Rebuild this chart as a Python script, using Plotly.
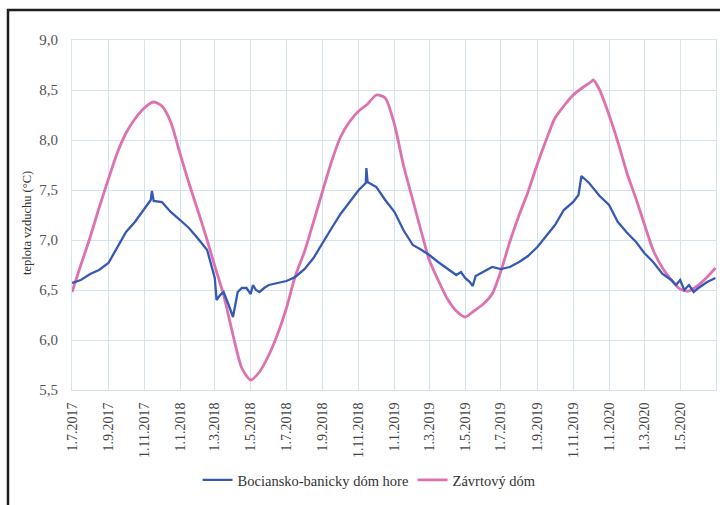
import plotly.graph_objects as go

# Daily mean air temperature in two cave domes (sampled readings)
dates_zavrt = [
    "2017-07-01", "2017-07-16", "2017-08-01", "2017-08-16", "2017-09-01", "2017-09-16",
    "2017-10-01", "2017-10-16", "2017-11-01", "2017-11-16", "2017-12-01", "2017-12-16",
    "2018-01-01", "2018-01-16", "2018-02-01", "2018-02-16", "2018-03-01", "2018-03-16",
    "2018-04-01", "2018-04-16", "2018-05-01", "2018-05-16", "2018-06-01", "2018-06-16",
    "2018-07-01", "2018-07-16", "2018-08-01", "2018-08-16", "2018-09-01", "2018-09-16",
    "2018-10-01", "2018-10-16", "2018-11-01", "2018-11-16", "2018-12-01", "2018-12-16",
    "2019-01-01", "2019-01-16", "2019-02-01", "2019-02-16", "2019-03-01", "2019-03-16",
    "2019-04-01", "2019-04-16", "2019-05-01", "2019-05-16", "2019-06-01", "2019-06-16",
    "2019-07-01", "2019-07-16", "2019-08-01", "2019-08-16", "2019-09-01", "2019-09-16",
    "2019-10-01", "2019-10-16", "2019-11-01", "2019-11-16", "2019-12-01", "2019-12-05",
    "2019-12-16", "2020-01-01", "2020-01-16", "2020-02-01", "2020-02-16", "2020-03-01",
    "2020-03-16", "2020-04-01", "2020-04-16", "2020-05-01", "2020-05-16", "2020-06-01",
    "2020-06-16", "2020-06-30",
]
temp_zavrt = [
    6.48, 6.75, 7.03, 7.32, 7.61, 7.87,
    8.07, 8.21, 8.32, 8.38, 8.34, 8.18,
    7.86, 7.57, 7.28, 7.00, 6.74, 6.45,
    6.05, 5.72, 5.60, 5.68, 5.85, 6.06,
    6.32, 6.64, 6.89, 7.18, 7.50, 7.79,
    8.03, 8.18, 8.29, 8.36, 8.45, 8.42,
    8.15, 7.75, 7.40, 7.07, 6.80, 6.60,
    6.41, 6.29, 6.23, 6.29, 6.36, 6.46,
    6.69, 6.98, 7.25, 7.48, 7.76, 8.00,
    8.22, 8.34, 8.45, 8.52, 8.58, 8.60,
    8.50, 8.25, 7.98, 7.66, 7.41, 7.16,
    6.90, 6.72, 6.60, 6.51, 6.49, 6.55,
    6.63, 6.72,
]

dates_bocian = [
    "2017-07-01", "2017-07-16", "2017-08-01", "2017-08-16", "2017-09-01", "2017-09-16",
    "2017-10-01", "2017-10-16", "2017-11-01", "2017-11-12", "2017-11-14", "2017-11-17",
    "2017-12-01", "2017-12-16", "2018-01-01", "2018-01-16", "2018-02-01", "2018-02-16",
    "2018-03-01", "2018-03-04", "2018-03-10", "2018-03-16", "2018-03-24", "2018-04-01",
    "2018-04-09", "2018-04-16", "2018-04-24", "2018-05-01", "2018-05-05", "2018-05-10",
    "2018-05-16", "2018-05-24", "2018-06-01", "2018-06-16", "2018-07-01", "2018-07-16",
    "2018-08-01", "2018-08-16", "2018-09-01", "2018-09-16", "2018-10-01", "2018-10-16",
    "2018-11-01", "2018-11-13", "2018-11-14", "2018-11-16", "2018-12-01", "2018-12-16",
    "2019-01-01", "2019-01-16", "2019-02-01", "2019-02-16", "2019-03-01", "2019-03-16",
    "2019-04-01", "2019-04-16", "2019-04-24", "2019-05-01", "2019-05-09", "2019-05-14",
    "2019-05-19", "2019-06-01", "2019-06-16", "2019-07-01", "2019-07-16", "2019-08-01",
    "2019-08-16", "2019-09-01", "2019-09-16", "2019-10-01", "2019-10-16", "2019-11-01",
    "2019-11-10", "2019-11-15", "2019-11-28", "2019-12-16", "2020-01-01", "2020-01-16",
    "2020-02-01", "2020-02-16", "2020-03-01", "2020-03-16", "2020-04-01", "2020-04-16",
    "2020-04-24", "2020-05-01", "2020-05-08", "2020-05-16", "2020-05-24", "2020-06-01",
    "2020-06-16", "2020-06-30",
]
temp_bocian = [
    6.57, 6.60, 6.66, 6.70, 6.77, 6.92,
    7.08, 7.18, 7.31, 7.40, 7.49, 7.39,
    7.38, 7.28, 7.20, 7.12, 7.01, 6.90,
    6.62, 6.40, 6.45, 6.48, 6.36, 6.23,
    6.48, 6.52, 6.52, 6.46, 6.55, 6.50,
    6.48, 6.52, 6.55, 6.57, 6.59, 6.63,
    6.71, 6.82, 6.98, 7.12, 7.26, 7.38,
    7.50, 7.57, 7.72, 7.58, 7.53, 7.40,
    7.28, 7.10, 6.95, 6.90, 6.85, 6.78,
    6.71, 6.65, 6.68, 6.62, 6.58, 6.54,
    6.64, 6.68, 6.73, 6.71, 6.73, 6.78,
    6.84, 6.93, 7.04, 7.15, 7.30, 7.38,
    7.45, 7.64, 7.57, 7.44, 7.35, 7.18,
    7.07, 6.98, 6.87, 6.78, 6.66, 6.60,
    6.55, 6.60, 6.50, 6.55, 6.48, 6.52,
    6.58, 6.62,
]

tick_dates = [
    "2017-07-01", "2017-09-01", "2017-11-01", "2018-01-01", "2018-03-01", "2018-05-01",
    "2018-07-01", "2018-09-01", "2018-11-01", "2019-01-01", "2019-03-01", "2019-05-01",
    "2019-07-01", "2019-09-01", "2019-11-01", "2020-01-01", "2020-03-01", "2020-05-01",
]
tick_labels = [
    "1.7.2017", "1.9.2017", "1.11.2017", "1.1.2018", "1.3.2018", "1.5.2018",
    "1.7.2018", "1.9.2018", "1.11.2018", "1.1.2019", "1.3.2019", "1.5.2019",
    "1.7.2019", "1.9.2019", "1.11.2019", "1.1.2020", "1.3.2020", "1.5.2020",
]
y_ticks = [5.5, 6.0, 6.5, 7.0, 7.5, 8.0, 8.5, 9.0]

SERIF = "Liberation Serif"
GRID = "#d5e3ed"
BLUE = "#3559b5"
PINK = "#dd72b0"

fig = go.Figure()
fig.add_trace(go.Scatter(
    x=dates_zavrt, y=temp_zavrt, mode="lines", name="Závrtový dóm",
    line=dict(color=PINK, width=2.8, shape="spline", smoothing=0.7), legendrank=2,
))
fig.add_trace(go.Scatter(
    x=dates_bocian, y=temp_bocian, mode="lines", name="Bociansko-banicky dóm hore",
    line=dict(color=BLUE, width=2.3), legendrank=1,
))

fig.update_layout(
    width=720, height=505,
    margin=dict(l=72, r=4, t=40, b=115),
    paper_bgcolor="white", plot_bgcolor="white",
    separators=", ",
    font=dict(family=SERIF, color="#444", size=12),
    showlegend=True,
    legend=dict(
        orientation="h", x=0.195, xanchor="left", y=-0.257, yanchor="middle",
        font=dict(family=SERIF, size=14.5, color="#333"),
        itemwidth=30, entrywidth=170, entrywidthmode="pixels",
        bgcolor="rgba(0,0,0,0)",
    ),
    xaxis=dict(
        type="date", range=["2017-07-01", "2020-07-01"],
        tickmode="array", tickvals=tick_dates, ticktext=tick_labels,
        tickangle=-90, tickfont=dict(family=SERIF, size=14, color="#444"),
        ticks="outside", ticklen=6, tickcolor="rgba(0,0,0,0)",
        showgrid=True, gridcolor=GRID, gridwidth=1,
        showline=True, linecolor=GRID, linewidth=1, mirror=True,
        zeroline=False,
    ),
    yaxis=dict(
        range=[5.5, 9.0], tickmode="array", tickvals=y_ticks,
        tickformat=".1f", tickfont=dict(family=SERIF, size=15, color="#555"),
        ticks="outside", ticklen=10, tickcolor="rgba(0,0,0,0)",
        showgrid=True, gridcolor=GRID, gridwidth=1,
        showline=True, linecolor=GRID, linewidth=1, mirror=True,
        zeroline=False,
    ),
    annotations=[dict(
        text="teplota vzduchu (°C)", textangle=-90, showarrow=False,
        xref="paper", yref="paper", x=-0.0699, y=0.477,
        xanchor="center", yanchor="middle",
        font=dict(family=SERIF, size=12.5, color="#333"),
    )],
    shapes=[dict(
        type="rect", xref="paper", yref="paper",
        x0=-0.0994, x1=1.02, y0=-0.37, y1=1.0857,
        line=dict(color="#1e1e1e", width=2.5), fillcolor="rgba(0,0,0,0)",
        layer="above",
    )],
)

fig.write_html("out.html")
